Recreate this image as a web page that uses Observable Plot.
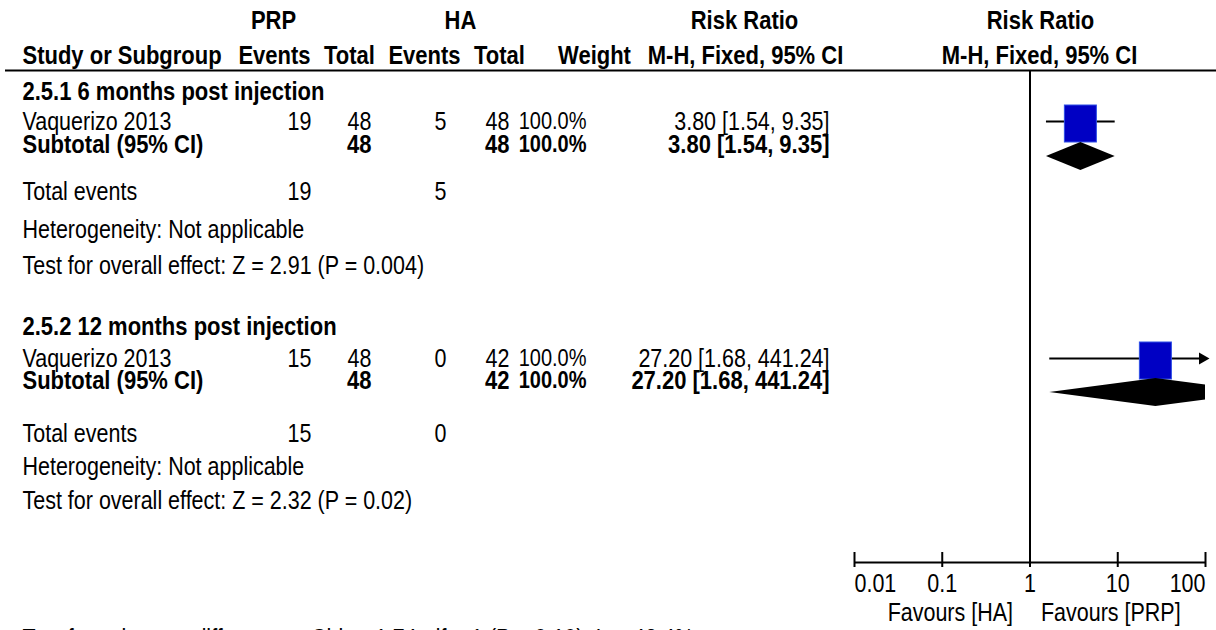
<!DOCTYPE html>
<html>
<head>
<meta charset="utf-8">
<script src="https://cdn.jsdelivr.net/npm/d3@7"></script>
<script src="https://cdn.jsdelivr.net/npm/@observablehq/plot@0.6"></script>
<style>
  html, body { margin: 0; padding: 0; background: #fff; overflow: hidden; }
  #chart svg { display: block; }
</style>
</head>
<body>
<div id="chart"></div>
<script>
// ---- Data: PRP vs HA, risk ratio by follow-up subgroup ----
const subgroupTitles = ["2.5.1 6 months post injection", "2.5.2 12 months post injection"];
const studyNames = ["Vaquerizo 2013", "Vaquerizo 2013"];
const prpEvents = [19, 15];
const prpTotal = [48, 48];
const haEvents = [5, 0];
const haTotal = [48, 42];
const weights = [100.0, 100.0];
const riskRatio = [3.80, 27.20];
const ciLower = [1.54, 1.68];
const ciUpper = [9.35, 441.24];
const zValues = [2.91, 2.32];
const pValues = ["0.004", "0.02"];
const axisTicks = [0.01, 0.1, 1, 10, 100];
const subgroupChi2 = 1.74;
const subgroupDf = 1;
const subgroupP = "0.19";
const subgroupI2 = 42.4;

// ---- Layout ----
const W = 1216, H = 630;
const FONT = "'Liberation Sans', Arial, sans-serif";
const FS = 21.5, FSB = 22, FSW = 20, SY = 1.17;   // text is drawn tall and narrow
const headerY1 = 20, headerY2 = 55, ruleY = 70;
const sectionY = [
  {title: 91, study: 121, subtotal: 144, diamond: 156, events: 191, het: 229, test: 265},
  {title: 326, study: 358, subtotal: 380, diamond: 392, events: 433, het: 466, test: 500}
];
const axisY = 562, tickLabelY = 583, favoursY = 612, footerY = 638;
const colX = {name: 22, prpEv: 311, prpTot: 371, haEv: 446, haTot: 509, weight: 586, ci: 829};
const diamondHalf = 14;

const xMin = d3.min(axisTicks), xMax = d3.max(axisTicks);
const fmt2 = d3.format(".2f"), fmt1 = d3.format(".1f");

// ---- Table cells, one list per column ----
const nameCells = [], prpEvCells = [], prpTotCells = [], haEvCells = [], haTotCells = [], weightCells = [], ciCells = [];
subgroupTitles.forEach((title, i) => {
  const r = sectionY[i];
  const ci = `${fmt2(riskRatio[i])} [${fmt2(ciLower[i])}, ${fmt2(ciUpper[i])}]`;
  nameCells.push({y: r.title, text: title, bold: true});
  nameCells.push({y: r.study, text: studyNames[i], bold: false});
  nameCells.push({y: r.subtotal, text: "Subtotal (95% CI)", bold: true});
  nameCells.push({y: r.events, text: "Total events", bold: false});
  nameCells.push({y: r.het, text: "Heterogeneity: Not applicable", bold: false});
  nameCells.push({y: r.test, text: `Test for overall effect: Z = ${fmt2(zValues[i])} (P = ${pValues[i]})`, bold: false});
  prpEvCells.push({y: r.study, text: prpEvents[i], bold: false}, {y: r.events, text: prpEvents[i], bold: false});
  prpTotCells.push({y: r.study, text: prpTotal[i], bold: false}, {y: r.subtotal, text: prpTotal[i], bold: true});
  haEvCells.push({y: r.study, text: haEvents[i], bold: false}, {y: r.events, text: haEvents[i], bold: false});
  haTotCells.push({y: r.study, text: haTotal[i], bold: false}, {y: r.subtotal, text: haTotal[i], bold: true});
  weightCells.push({y: r.study, text: fmt1(weights[i]) + "%", bold: false}, {y: r.subtotal, text: fmt1(weights[i]) + "%", bold: true});
  ciCells.push({y: r.study, text: ci, bold: false}, {y: r.subtotal, text: ci, bold: true});
});

function column(cells, x, anchor, size = FS, sizeBold = FSB) {
  const common = {frameAnchor: "left", dx: x, y: "y", text: "text", textAnchor: anchor,
                  fontFamily: FONT, fill: "black"};
  return [
    Plot.text(cells.filter(d => !d.bold), {...common, fontSize: size, fontWeight: "normal"}),
    Plot.text(cells.filter(d => d.bold), {...common, fontSize: sizeBold, fontWeight: "bold"})
  ];
}

function header(label, x, y, anchor = "middle") {
  return Plot.text([label], {frameAnchor: "left", dx: x, y: () => y, text: d => d, textAnchor: anchor,
                             fontSize: FSB, fontWeight: "bold", fontFamily: FONT, fill: "black"});
}

// ---- Forest plot geometry ----
const studies = riskRatio.map((rr, i) => ({
  i, rr, lo: ciLower[i], hi: ciUpper[i], y: sectionY[i].study, yd: sectionY[i].diamond
}));

const diamondPts = studies.flatMap(d => {
  const pts = [
    {x: d.lo, y1: d.yd, y2: d.yd},
    {x: d.rr, y1: d.yd - diamondHalf, y2: d.yd + diamondHalf}
  ];
  if (d.hi <= xMax) {
    pts.push({x: d.hi, y1: d.yd, y2: d.yd});
  } else {
    // truncate the diamond at the right end of the axis
    const f = (Math.log10(d.hi) - Math.log10(xMax)) / (Math.log10(d.hi) - Math.log10(d.rr)) * diamondHalf;
    pts.push({x: xMax, y1: d.yd - f, y2: d.yd + f});
  }
  return pts.map(p => ({...p, i: d.i}));
});

const footer = `Test for subgroup differences: Chi² = ${fmt2(subgroupChi2)}, df = ${subgroupDf} (P = ${subgroupP}), I² = ${fmt1(subgroupI2)}%`;
const tickText = {fontSize: FS, fontFamily: FONT, fill: "black"};

const chart = Plot.plot({
  width: W,
  height: H,
  marginTop: 0, marginRight: 0, marginBottom: 0, marginLeft: 0,
  style: {background: "#fff", overflow: "visible"},
  x: {type: "log", domain: [xMin, xMax], range: [854, 1205], axis: null},
  y: {type: "linear", domain: [0, H], range: [0, H], axis: null},
  marks: [
    // headers
    header("PRP", 273, headerY1),
    header("HA", 460, headerY1),
    header("Risk Ratio", 744, headerY1),
    header("Risk Ratio", 1040, headerY1),
    header("Study or Subgroup", colX.name, headerY2, "start"),
    header("Events", 274, headerY2),
    header("Total", 349, headerY2),
    header("Events", 424, headerY2),
    header("Total", 499, headerY2),
    header("Weight", 594, headerY2),
    header("M-H, Fixed, 95% CI", 745, headerY2),
    header("M-H, Fixed, 95% CI", 1039, headerY2),
    Plot.ruleY([ruleY], {insetLeft: 5, stroke: "black", strokeWidth: 2}),

    // table body
    ...column(nameCells, colX.name, "start"),
    ...column(prpEvCells, colX.prpEv, "end"),
    ...column(prpTotCells, colX.prpTot, "end"),
    ...column(haEvCells, colX.haEv, "end"),
    ...column(haTotCells, colX.haTot, "end"),
    ...column(weightCells, colX.weight, "end", FSW, FSW),
    ...column(ciCells, colX.ci, "end"),

    // line of no effect and axis
    Plot.ruleX([1], {x: d => d, y1: ruleY, y2: axisY + 5, stroke: "black", strokeWidth: 2}),
    Plot.ruleY([axisY], {x1: xMin, x2: xMax, stroke: "black", strokeWidth: 2}),
    Plot.ruleX(axisTicks, {x: d => d, y1: axisY - 10, y2: axisY + 5, stroke: "black", strokeWidth: 2}),
    Plot.text(axisTicks.filter(t => t === xMin), {x: d => d, y: () => tickLabelY, text: d => String(d), textAnchor: "start", ...tickText}),
    Plot.text(axisTicks.filter(t => t > xMin && t < xMax), {x: d => d, y: () => tickLabelY, text: d => String(d), textAnchor: "middle", ...tickText}),
    Plot.text(axisTicks.filter(t => t === xMax), {x: d => d, y: () => tickLabelY, text: d => String(d), textAnchor: "end", ...tickText}),
    Plot.text(["Favours [HA]"], {x: () => 1, y: () => favoursY, dx: -17, text: d => d, textAnchor: "end", ...tickText}),
    Plot.text(["Favours [PRP]"], {x: () => 1, y: () => favoursY, dx: 11, text: d => d, textAnchor: "start", ...tickText}),

    // confidence intervals, clipped at the axis end with an arrow
    Plot.ruleY(studies, {y: "y", x1: "lo", x2: d => Math.min(d.hi, xMax), stroke: "black", strokeWidth: 2}),
    Plot.dot(studies.filter(d => d.hi > xMax), {x: () => xMax, y: "y", symbol: "triangle", rotate: 90, r: 4.5, dx: -3, fill: "black", stroke: "none"}),
    // study weight squares
    Plot.rect(studies, {x1: "rr", x2: "rr", y1: d => d.y - 16, y2: d => d.y + 21, insetLeft: -16, insetRight: -16,
                        fill: "#0000c4", stroke: "#2f4fe6", strokeWidth: 1}),
    // pooled estimate diamonds
    Plot.areaY(diamondPts, {x: "x", y1: "y1", y2: "y2", z: "i", fill: "black"}),

    // subgroup difference test
    Plot.text([footer], {frameAnchor: "left", dx: colX.name, y: () => footerY, text: d => d, textAnchor: "start", fontSize: FS, fontFamily: FONT})
  ]
});

// stretch every label vertically about its anchor point
chart.querySelectorAll("text").forEach(t => {
  const tr = t.getAttribute("transform") || "";
  t.setAttribute("transform", `${tr} scale(1,${SY})`.trim());
});

document.getElementById("chart").append(chart);
</script>
</body>
</html>
